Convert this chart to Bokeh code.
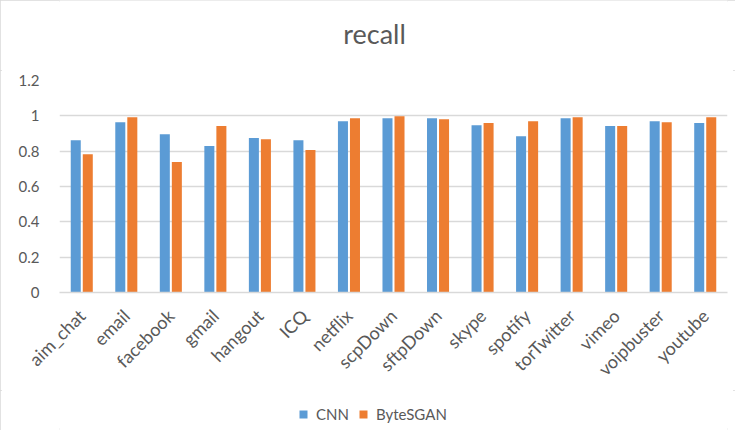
import math
from bokeh.plotting import figure
from bokeh.layouts import column
from bokeh.models import (ColumnDataSource, Legend, LegendItem, FixedTicker,
                          NumeralTickFormatter, Range1d, Label)
from bokeh.transform import dodge
from bokeh.embed import file_html
from bokeh.resources import INLINE

categories = ["aim_chat", "email", "facebook", "gmail", "hangout", "ICQ", "netflix",
              "scpDown", "sftpDown", "skype", "spotify", "torTwitter", "vimeo",
              "voipbuster", "youtube"]
cnn = [0.862, 0.964, 0.896, 0.829, 0.874, 0.862, 0.970, 0.987, 0.987, 0.947,
       0.885, 0.987, 0.942, 0.970, 0.959]
bytesgan = [0.783, 0.992, 0.738, 0.942, 0.868, 0.806, 0.987, 0.998, 0.981, 0.959,
            0.970, 0.992, 0.942, 0.964, 0.992]
y_ticks = [0, 0.2, 0.4, 0.6, 0.8, 1.0, 1.2]
series_names = ["CNN", "ByteSGAN"]
chart_title = "recall"

FONT = "Lato"
TXT = "#595959"
GRID = "#D9D9D9"
BLUE = "#5B9BD5"
ORANGE = "#ED7D31"
W = 735
LEFT, RIGHT = 59, 8   # frame borders (column aligns frames horizontally)


def blank(height, y0=0):
    f = figure(width=W, height=height, title=None,
               x_range=Range1d(LEFT, W - RIGHT), y_range=Range1d(y0, y0 + height),
               output_backend="svg", toolbar_location=None,
               x_axis_location=None, y_axis_location=None,
               min_border=0, min_border_left=LEFT, min_border_right=RIGHT)
    f.outline_line_color = None
    f.background_fill_color = "white"
    f.border_fill_color = "white"
    f.grid.visible = False
    return f


# --- title strip ---
t = blank(70)
t.add_layout(Label(x=374, y=37, text=chart_title, text_align="center",
                   text_baseline="middle", text_font=FONT,
                   text_font_size="27px", text_color=TXT))

# --- main chart ---
source = ColumnDataSource(dict(cat=categories, cnn=cnn, bytesgan=bytesgan))

p = figure(x_range=categories, y_range=Range1d(0, 1.2),
           width=W, height=320, title=None,
           output_backend="svg", toolbar_location=None,
           min_border_left=LEFT, min_border_right=RIGHT, min_border_top=10,
           min_border_bottom=97)

p.vbar(x=dodge("cat", -0.135, range=p.x_range), top="cnn", width=0.225,
       source=source, fill_color=BLUE, line_color=None)
p.vbar(x=dodge("cat", 0.135, range=p.x_range), top="bytesgan", width=0.225,
       source=source, fill_color=ORANGE, line_color=None)

p.outline_line_color = None
p.background_fill_color = "white"
p.border_fill_color = "white"

p.xgrid.grid_line_color = None
p.ygrid.grid_line_color = GRID
p.ygrid.grid_line_width = 1.5
p.yaxis.ticker = FixedTicker(ticks=y_ticks)
p.yaxis.formatter = NumeralTickFormatter(format="0.[0]")
p.yaxis.axis_line_color = None
p.yaxis.major_tick_line_color = None
p.yaxis.minor_tick_line_color = None
p.yaxis.major_label_text_font = FONT
p.yaxis.major_label_text_font_size = "15px"
p.yaxis.major_label_text_color = TXT
p.yaxis.major_label_standoff = 14

p.xaxis.axis_line_color = GRID
p.xaxis.axis_line_width = 1.5
p.xaxis.major_tick_line_color = None
p.xaxis.minor_tick_line_color = None
p.xaxis.major_label_orientation = math.pi / 4
p.xaxis.major_label_text_font = FONT
p.xaxis.major_label_text_font_size = "18px"
p.xaxis.major_label_text_color = TXT
p.xaxis.major_label_standoff = 14

# --- legend strip (its bars fall outside its ranges, only the swatches show) ---
lg = blank(40, y0=10)
k1 = lg.vbar(x="cnn", top="cnn", width=0.1, source=source, fill_color=BLUE, line_color=None)
k2 = lg.vbar(x="bytesgan", top="bytesgan", width=0.1, source=source, fill_color=ORANGE, line_color=None)
legend = Legend(items=[LegendItem(label=series_names[0], renderers=[k1], index=0),
                       LegendItem(label=series_names[1], renderers=[k2], index=0)],
                orientation="horizontal", location=(298 - LEFT, 7),
                label_text_font=FONT, label_text_font_size="15px",
                label_text_color=TXT, glyph_width=10, glyph_height=10,
                spacing=9, label_standoff=8, border_line_color=None,
                background_fill_alpha=0, padding=0, margin=0)
lg.add_layout(legend, "center")

layout = column(t, p, lg, spacing=0)
layout.styles = {"outline": "2px solid #D9D9D9", "outline-offset": "-2px"}
open("out.html", "w").write(file_html(layout, INLINE))
